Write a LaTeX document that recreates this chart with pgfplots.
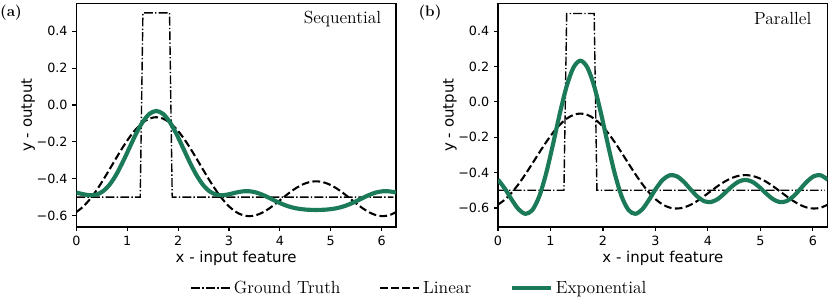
\documentclass[border=0pt]{standalone}
\usepackage{pgfplots}
\pgfplotsset{compat=1.18}
\usepackage{pgfplotstable}
\usepackage{fontspec}
\newfontfamily\dv{DejaVu Sans}
\definecolor{expgreen}{RGB}{27,122,87}

% x, Linear, Sequential exponential, Parallel exponential
\pgfplotstableread{
x L S P
0.0000 -0.5810 -0.4750 -0.4400
0.1309 -0.5525 -0.4837 -0.4904
0.2618 -0.5131 -0.4895 -0.5529
0.3927 -0.4645 -0.4862 -0.6076
0.5236 -0.4088 -0.4683 -0.6330
0.6545 -0.3487 -0.4321 -0.6115
0.7854 -0.2875 -0.3775 -0.5346
0.9163 -0.2283 -0.3079 -0.4057
1.0472 -0.1746 -0.2304 -0.2409
1.1781 -0.1292 -0.1543 -0.0659
1.3090 -0.0948 -0.0903 0.0889
1.4399 -0.0733 -0.0475 0.1952
1.5708 -0.0660 -0.0325 0.2330
1.7017 -0.0733 -0.0475 0.1952
1.8326 -0.0948 -0.0903 0.0889
1.9635 -0.1292 -0.1543 -0.0659
2.0944 -0.1746 -0.2304 -0.2409
2.2253 -0.2283 -0.3079 -0.4057
2.3562 -0.2875 -0.3775 -0.5346
2.4871 -0.3487 -0.4321 -0.6115
2.6180 -0.4088 -0.4683 -0.6330
2.7489 -0.4645 -0.4862 -0.6076
2.8798 -0.5131 -0.4895 -0.5529
3.0107 -0.5525 -0.4837 -0.4904
3.1416 -0.5810 -0.4750 -0.4400
3.2725 -0.5979 -0.4686 -0.4152
3.4034 -0.6032 -0.4682 -0.4201
3.5343 -0.5977 -0.4748 -0.4500
3.6652 -0.5828 -0.4878 -0.4930
3.7961 -0.5606 -0.5046 -0.5345
3.9270 -0.5335 -0.5225 -0.5614
4.0579 -0.5044 -0.5387 -0.5664
4.1888 -0.4759 -0.5517 -0.5492
4.3197 -0.4507 -0.5606 -0.5165
4.4506 -0.4309 -0.5660 -0.4799
4.5815 -0.4183 -0.5687 -0.4516
4.7124 -0.4140 -0.5695 -0.4410
4.8433 -0.4183 -0.5687 -0.4516
4.9742 -0.4309 -0.5660 -0.4799
5.1051 -0.4507 -0.5606 -0.5165
5.2360 -0.4759 -0.5517 -0.5492
5.3669 -0.5044 -0.5387 -0.5664
5.4978 -0.5335 -0.5225 -0.5614
5.6287 -0.5606 -0.5046 -0.5345
5.7596 -0.5828 -0.4878 -0.4930
5.8905 -0.5977 -0.4748 -0.4500
6.0214 -0.6032 -0.4682 -0.4201
6.1523 -0.5979 -0.4686 -0.4152
6.2832 -0.5810 -0.4750 -0.4400
}\curves

\pgfplotstableread{
x y
0.0000 -0.5
1.2566 -0.5
1.3090 0.5
1.8326 0.5
1.8850 -0.5
6.2308 -0.5
}\gt

\pgfplotsset{
  panel/.style={
    scale only axis, height=2.237in, xmin=0, xmax=6.2832,
    axis line style={line width=0.8pt},
    tick style={line width=0.8pt, black},
    tick align=outside, major tick length=2.8pt,
    xtick pos=left, ytick pos=left,
    xtick={0,1,2,3,4,5,6}, xticklabels={0,1,2,3,4,5,6},
    ytick={-0.6,-0.4,-0.2,0,0.2,0.4},
    yticklabels={−0.6,−0.4,−0.2,0.0,0.2,0.4},
    /pgf/number format/assume math mode=true,
    ticklabel style={font={\dv\fontsize{9.2}{11}\selectfont}},
    label style={font={\dv\fontsize{10.8}{13}\selectfont}},
    xlabel={x - input feature}, ylabel={y - output},
    xlabel style={at={(axis description cs:0.5,-0.159)}, anchor=base},
    legend image code/.code={\draw[#1] (0in,0in) -- (0.39in,0in);},
  },
  gtstyle/.style={black, line width=1pt, dash pattern=on 6.4pt off 1.6pt on 1pt off 1.6pt},
  linstyle/.style={black, line width=1.5pt, dash pattern=on 5.55pt off 2.4pt, smooth},
  expstyle/.style={expgreen, line width=3pt, smooth, line join=round},
}

\begin{document}
\begin{tikzpicture}
\useasboundingbox (0,0) rectangle (8.3in,3.01in);

\begin{axis}[panel, at={(0.763in,0.74in)}, anchor=south west,
  width=3.197in, ymin=-0.662, ymax=0.552,
  ylabel style={at={(axis description cs:-0.1386,0.5)}, anchor=base},
  legend columns=3,
  legend style={at={(1.075,-0.273)}, anchor=center, draw=none, fill=none,
    font=\fontsize{12.7}{15}\selectfont,
    /tikz/every even column/.append style={column sep=0.36in}},
]
\addplot[gtstyle] table[x=x,y=y] {\gt};
\addlegendentry{Ground Truth}
\addplot[linstyle] table[x=x,y=L] {\curves};
\addlegendentry{Linear}
\addplot[expstyle] table[x=x,y=S] {\curves};
\addlegendentry{Exponential}
\node[anchor=east, font=\fontsize{12.7}{15}\selectfont] at (axis description cs:0.969,0.93) {Sequential};
\end{axis}

\begin{axis}[panel, at={(4.98in,0.74in)}, anchor=south west,
  width=3.297in, ymin=-0.7075, ymax=0.5575,
  ylabel style={at={(axis description cs:-0.1344,0.5)}, anchor=base},
]
\addplot[gtstyle] table[x=x,y=y] {\gt};
\addplot[linstyle] table[x=x,y=L] {\curves};
\addplot[expstyle] table[x=x,y=P] {\curves};
\node[anchor=east, font=\fontsize{12.7}{15}\selectfont] at (axis description cs:0.965,0.93) {Parallel};
\end{axis}

\node[font=\bfseries\fontsize{11}{13}\selectfont] at (0.11in,2.88in) {(a)};
\node[font=\bfseries\fontsize{11}{13}\selectfont] at (4.30in,2.88in) {(b)};
\end{tikzpicture}
\end{document}
